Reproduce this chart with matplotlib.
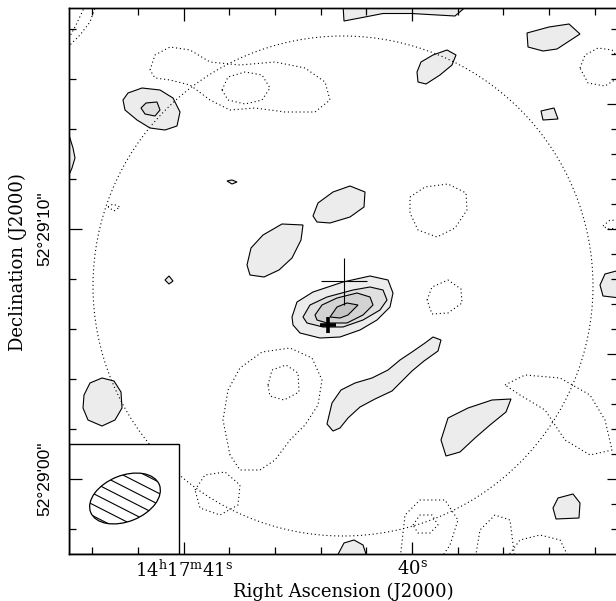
import matplotlib
matplotlib.use('Agg')
import matplotlib.pyplot as plt
from matplotlib.patches import Polygon, Ellipse, Circle, Rectangle
import numpy as np

plt.rcParams['mathtext.fontset'] = 'dejavuserif'

# offsets in arcsec from 14h17m40s, +52d29m00s (x positive = east)
cos_dec = np.cos(np.radians(52.4833))
ra_sec_ticks = np.arange(39.2, 41.41, 0.2)
ra_major = [41.0, 40.0]
ra_labels = ['14$^{\\mathrm{h}}$17$^{\\mathrm{m}}$41$^{\\mathrm{s}}$', '40$^{\\mathrm{s}}$']
dec_major = [0, 10]
dec_labels = ['52\u00b029\'00"', '52\u00b029\'10"']

# positive contours: each entry is (level, vertices)
pos_contours = [
    (1, [(2.76, 18.96), (2.72, 18.32), (1.88, 18.48), (1.16, 18.62), (0.04, 18.62), (-1.72, 18.52), (-2.24, 18.96)]),
    (1, [(-4.6, 17.84), (-4.64, 17.28), (-5.24, 17.12), (-5.8, 17.2), (-6.72, 17.8), (-6.28, 18.2), (-5.48, 18.08)]),
    (1, [(-0.2, 16.28), (-0.36, 16.68), (-0.84, 16.96), (-1.4, 17.16), (-1.76, 16.96), (-1.6, 16.56), (-1.12, 16.16), (-0.56, 15.8), (-0.24, 15.88)]),
    (1, [(11.56, 15.16), (11.36, 15.44), (10.8, 15.64), (10.08, 15.56), (9.56, 15.24), (9.28, 14.68), (9.4, 14.12), (9.88, 13.96), (10.48, 14.04), (11.0, 14.36), (11.48, 14.76)]),
    (2, [(10.84, 14.84), (10.64, 15.04), (10.2, 15.08), (10.08, 14.76), (10.28, 14.52), (10.68, 14.6)]),
    (1, [(-5.16, 14.72), (-5.68, 14.84), (-5.84, 14.4), (-5.24, 14.36)]),
    (1, [(13.72, 13.76), (13.56, 13.24), (13.48, 12.84), (13.6, 12.44), (13.72, 12.16), (14.2, 12.16), (14.2, 13.76)]),
    (1, [(7.4, 11.92), (7.2, 11.96), (7.0, 11.88), (7.2, 11.8)]),
    (1, [(3.96, 10.52), (3.76, 11.04), (3.16, 11.48), (2.48, 11.72), (1.88, 11.48), (1.92, 10.88), (2.48, 10.48), (3.28, 10.24), (3.8, 10.28)]),
    (1, [(6.6, 8.56), (6.44, 9.24), (5.96, 9.76), (5.2, 10.2), (4.36, 10.16), (4.44, 9.56), (4.8, 8.84), (5.32, 8.36), (5.92, 8.08), (6.48, 8.16)]),
    (1, [(9.88, 7.96), (9.72, 8.12), (9.56, 7.92), (9.72, 7.8)]),
    (1, [(4.8, 6.48), (4.6, 7.08), (3.96, 7.48), (2.76, 7.88), (1.68, 8.12), (0.96, 7.96), (0.76, 7.44), (0.88, 6.88), (1.4, 6.36), (2.08, 5.96), (2.88, 5.68), (3.68, 5.64), (4.48, 5.84), (4.76, 6.16)]),
    (2, [(4.36, 6.48), (4.08, 6.96), (3.4, 7.28), (2.36, 7.56), (1.68, 7.68), (1.16, 7.56), (1.0, 7.16), (1.28, 6.76), (1.96, 6.36), (2.76, 6.08), (3.56, 6.08), (4.2, 6.24)]),
    (3, [(3.88, 6.56), (3.6, 6.96), (3.0, 7.24), (2.2, 7.44), (1.68, 7.28), (1.56, 6.96), (1.96, 6.56), (2.6, 6.24), (3.4, 6.24), (3.8, 6.36)]),
    (4, [(3.28, 6.48), (3.0, 6.88), (2.6, 7.04), (2.16, 6.96), (2.56, 6.56), (2.88, 6.44)]),
    (1, [(3.2, 3.04), (2.84, 3.56), (2.28, 3.84), (1.6, 4.04), (0.96, 4.36), (0.48, 4.76), (0.0, 5.08), (-0.52, 5.44), (-0.84, 5.68), (-1.16, 5.56), (-1.04, 5.12), (-0.48, 4.72), (0.0, 4.32), (0.4, 3.92), (0.8, 3.52), (1.48, 3.2), (2.08, 2.88), (2.56, 2.44), (2.88, 2.04), (3.16, 1.92), (3.4, 2.2)]),
    (1, [(13.12, 3.36), (12.88, 3.84), (12.4, 4.04), (11.92, 3.92), (11.64, 3.48), (11.6, 2.84), (11.88, 2.36), (12.4, 2.12), (12.96, 2.36), (13.16, 2.84)]),
    (1, [(-1.16, 1.56), (-1.44, 2.44), (-2.24, 2.84), (-3.2, 3.16), (-3.96, 3.2), (-3.76, 2.68), (-3.12, 2.16), (-2.52, 1.64), (-1.92, 1.08), (-1.36, 0.92)]),
    (1, [(-5.64, -1.16), (-5.84, -0.76), (-6.44, -0.6), (-6.72, -0.96), (-6.68, -1.56), (-5.76, -1.6)]),
    (1, [(3.08, -3.24), (2.72, -2.56), (2.32, -2.44), (1.96, -2.64), (1.76, -3.24)]),
    (1, [(-8.32, 8.36), (-7.72, 8.2), (-7.52, 7.76), (-7.64, 7.32), (-8.32, 7.24)]),
]

# negative contours (dotted): (closed, vertices)
neg_contours = [
    (False, [(13.88, 17.36), (13.72, 17.64), (13.44, 18.16), (13.12, 18.84), (12.96, 19.16)]),
    (False, [(13.88, 17.16), (13.28, 17.76), (12.88, 18.28), (12.64, 18.96)]),
    (True, [(10.48, 16.36), (10.28, 16.96), (9.68, 17.28), (8.88, 17.16), (8.08, 16.68), (6.88, 16.56), (5.48, 16.68), (4.28, 16.44), (3.48, 15.88), (3.28, 15.16), (3.88, 14.68), (5.08, 14.68), (6.28, 14.84), (7.28, 14.76), (8.08, 15.16), (8.88, 15.76), (9.68, 15.96), (10.28, 16.04)]),
    (True, [(7.6, 15.56), (7.36, 16.08), (6.68, 16.28), (6.0, 16.16), (5.68, 15.64), (6.0, 15.16), (6.68, 15.0), (7.36, 15.16)]),
    (True, [(-6.72, 16.44), (-6.92, 16.96), (-7.44, 17.24), (-8.0, 17.16), (-8.32, 16.76), (-8.24, 16.04), (-7.72, 15.72), (-7.04, 15.84)]),
    (True, [(-7.64, 10.12), (-7.92, 10.36), (-8.32, 10.32), (-8.32, 10.04), (-7.84, 10.0)]),
    (True, [(0.08, 11.28), (-0.52, 11.68), (-1.44, 11.8), (-2.16, 11.44), (-2.2, 10.76), (-1.72, 10.04), (-1.0, 9.68), (-0.24, 9.96), (0.08, 10.64)]),
    (True, [(-0.6, 7.16), (-0.8, 7.68), (-1.44, 7.96), (-1.96, 7.6), (-2.0, 7.04), (-1.44, 6.64), (-0.8, 6.6)]),
    (True, [(12.16, 10.88), (11.96, 11.0), (11.68, 10.88), (11.92, 10.72)]),
    (True, [(5.76, 3.76), (5.6, 4.36), (5.04, 4.56), (4.56, 4.24), (4.52, 3.48), (5.12, 3.16), (5.68, 3.32)]),
    (True, [(7.28, 0.96), (7.56, 2.36), (7.36, 3.56), (6.88, 4.44), (6.0, 5.08), (4.88, 5.24), (4.0, 4.84), (3.6, 3.96), (3.76, 2.96), (4.28, 2.16), (4.88, 1.56), (5.48, 0.76), (6.08, 0.36), (6.88, 0.36)]),
    (True, [(8.68, -0.44), (8.28, 0.16), (7.48, 0.28), (6.88, -0.24), (6.96, -1.04), (7.68, -1.44), (8.48, -1.16)]),
    (True, [(-0.04, -1.84), (-0.32, -1.44), (-0.8, -1.44), (-1.04, -1.84), (-0.72, -2.16), (-0.24, -2.16)]),
    (False, [(0.48, -3.24), (0.28, -1.44), (-0.32, -0.84), (-1.32, -0.84), (-1.84, -1.64), (-1.52, -2.64), (-1.12, -3.24)]),
    (True, [(-3.72, 3.76), (-4.52, 4.16), (-5.92, 4.04), (-7.12, 3.36), (-7.72, 2.36), (-8.0, 1.16), (-7.12, 0.96), (-6.12, 1.56), (-5.32, 2.76), (-4.32, 3.36)]),
    (False, [(-3.72, -3.24), (-4.32, -2.44), (-5.12, -2.24), (-5.92, -2.44), (-6.32, -3.24)]),
    (False, [(-2.52, -3.24), (-2.72, -2.04), (-3.32, -1.44), (-3.92, -1.64), (-4.12, -3.24)]),
]

level_colors = {1: '#ececec', 2: '#e0e0e0', 3: '#d3d3d3', 4: '#c4c4c4'}

# field of view circle, source position, beam
fov_center = (2.76, 7.72)
fov_radius = 10.0
radio_pos = (2.74, 7.92)
radio_err = (0.92, 0.94)
opt_pos = (3.36, 6.16)
beam_center = (11.48, -0.78)
beam_major = 2.96
beam_minor = 1.84
beam_pa = -22

fig = plt.figure(figsize=(6.16, 6.01), dpi=100)
ax = fig.add_axes([69 / 616, 47 / 601, 548 / 616, 546 / 601])
ax.set_xlim(13.72, -8.2)
ax.set_ylim(-3.0, 18.84)

for lev, verts in pos_contours:
    ax.add_patch(Polygon(verts, closed=True, fc=level_colors[lev], ec='black', lw=0.8, zorder=1 + lev * 0.1))

for closed, verts in neg_contours:
    pts = np.array(verts)
    if closed:
        pts = np.vstack([pts, pts[:1]])
    ax.plot(pts[:, 0], pts[:, 1], color='black', lw=0.8, ls=(0, (1, 2.5)), zorder=2)

ax.add_patch(Circle(fov_center, fov_radius, fill=False, ec='black', lw=0.8, ls=(0, (1, 2.5)), zorder=2))

ax.errorbar([radio_pos[0]], [radio_pos[1]], xerr=[radio_err[0]], yerr=[radio_err[1]],
            fmt='none', ecolor='black', elinewidth=0.8, capsize=0, zorder=2.1)
ax.plot([opt_pos[0]], [opt_pos[1]], marker='+', ms=11, mew=2.6, color='black', zorder=2.1)

# beam inset
ax.add_patch(Rectangle((0, 0), 110 / 548, 110 / 546, transform=ax.transAxes,
                       fc='white', ec='black', lw=1.0, zorder=2.2))
beam = Ellipse(beam_center, beam_major, beam_minor, angle=beam_pa, fc='white', ec='black', lw=0.9, zorder=2.3)
ax.add_patch(beam)
d = np.array([-np.cos(np.radians(27)), -np.sin(np.radians(27))])
nrm = np.array([-d[1], d[0]])
for k in np.arange(-5, 6):
    c = np.array(beam_center) + k * 0.4 * nrm
    ln, = ax.plot([c[0] - 2.5 * d[0], c[0] + 2.5 * d[0]], [c[1] - 2.5 * d[1], c[1] + 2.5 * d[1]],
                  color='black', lw=0.8, zorder=2.35)
    ln.set_clip_path(beam)

# ticks
ax.set_axisbelow(False)
ra_off = (ra_sec_ticks - 40.0) * 15 * cos_dec
ax.set_xticks([(s - 40.0) * 15 * cos_dec for s in ra_major])
ax.set_xticklabels(ra_labels, family='DejaVu Serif', fontsize=13)
ax.set_xticks(ra_off, minor=True)
ax.set_yticks(dec_major)
ax.set_yticklabels(dec_labels, rotation=90, va='center', family='Liberation Sans', fontsize=12.5)
ax.set_yticks(np.arange(-2, 19, 2), minor=True)
ax.tick_params(which='both', direction='in', top=True, right=False, width=0.9)
ax.tick_params(which='major', length=9)
ax.tick_params(which='minor', length=5)
ax.tick_params(axis='x', which='major', pad=4)
ax.tick_params(axis='y', which='major', pad=12)

axr = ax.twinx()
axr.set_ylim(ax.get_ylim())
axr.set_yticks([0, 5, 10, 15])
axr.set_yticks(np.arange(-2, 19, 1), minor=True)
axr.tick_params(which='both', direction='in', labelright=False, width=0.9)
axr.tick_params(which='major', length=7)
axr.tick_params(which='minor', length=4)

for a in (ax, axr):
    for s in a.spines.values():
        s.set_linewidth(1.0)

ax.set_xlabel('Right Ascension (J2000)', family='DejaVu Serif', fontsize=13)
ax.xaxis.set_label_coords(0.5, -0.052)
ax.set_ylabel('Declination (J2000)', family='DejaVu Serif', fontsize=13, va='center')
ax.yaxis.set_label_coords(-0.093, 0.535)

fig.savefig('out.png', dpi=100)
